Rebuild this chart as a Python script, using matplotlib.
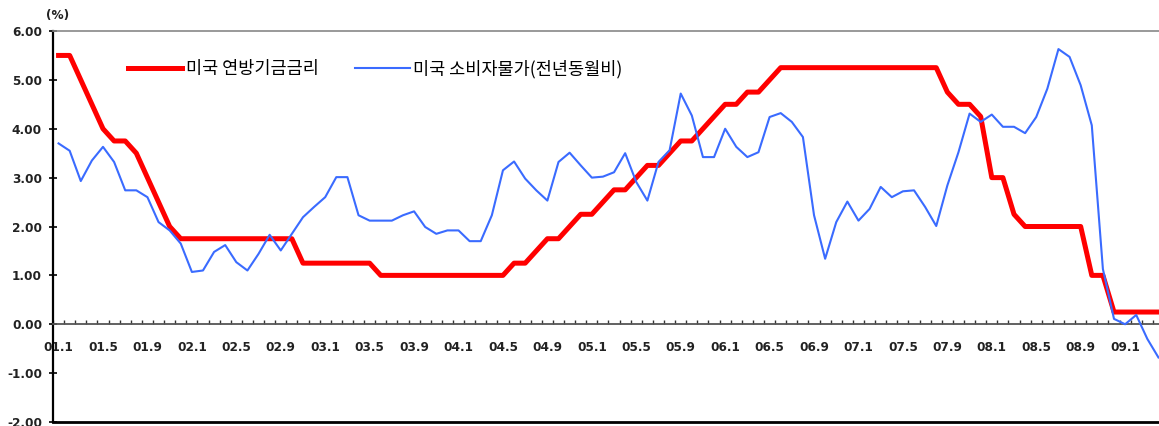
import numpy as np
import matplotlib
matplotlib.use('Agg')
import matplotlib.pyplot as plt

plt.rcParams['font.family'] = ['DejaVu Sans', 'Noto Sans CJK KR']

# 월별 데이터 (2001.1 ~ 2009.4)
fed_rate = [5.5, 5.5, 5.0, 4.5, 4.0, 3.75, 3.75, 3.5, 3.0, 2.5, 2.0, 1.75,          # 2001
            1.75, 1.75, 1.75, 1.75, 1.75, 1.75, 1.75, 1.75, 1.75, 1.75, 1.25, 1.25,  # 2002
            1.25, 1.25, 1.25, 1.25, 1.25, 1.0, 1.0, 1.0, 1.0, 1.0, 1.0, 1.0,         # 2003
            1.0, 1.0, 1.0, 1.0, 1.0, 1.25, 1.25, 1.5, 1.75, 1.75, 2.0, 2.25,         # 2004
            2.25, 2.5, 2.75, 2.75, 3.0, 3.25, 3.25, 3.5, 3.75, 3.75, 4.0, 4.25,      # 2005
            4.5, 4.5, 4.75, 4.75, 5.0, 5.25, 5.25, 5.25, 5.25, 5.25, 5.25, 5.25,     # 2006
            5.25, 5.25, 5.25, 5.25, 5.25, 5.25, 5.25, 5.25, 4.75, 4.5, 4.5, 4.25,    # 2007
            3.0, 3.0, 2.25, 2.0, 2.0, 2.0, 2.0, 2.0, 2.0, 1.0, 1.0, 0.25,            # 2008
            0.25, 0.25, 0.25, 0.25]                                                  # 2009

cpi = [3.7, 3.55, 2.93, 3.35, 3.63, 3.32, 2.74, 2.74, 2.6, 2.09, 1.92, 1.65,        # 2001
       1.07, 1.1, 1.48, 1.62, 1.27, 1.1, 1.44, 1.83, 1.51, 1.85, 2.19, 2.4,         # 2002
       2.6, 3.01, 3.01, 2.23, 2.12, 2.12, 2.12, 2.23, 2.31, 1.99, 1.85, 1.92,       # 2003
       1.92, 1.7, 1.7, 2.23, 3.15, 3.33, 2.98, 2.74, 2.53, 3.32, 3.51, 3.25,        # 2004
       3.0, 3.02, 3.11, 3.5, 2.91, 2.53, 3.32, 3.56, 4.72, 4.27, 3.42, 3.42,        # 2005
       4.0, 3.63, 3.42, 3.52, 4.24, 4.32, 4.14, 3.83, 2.23, 1.34, 2.09, 2.51,       # 2006
       2.12, 2.36, 2.81, 2.6, 2.72, 2.74, 2.4, 2.01, 2.84, 3.52, 4.31, 4.14,        # 2007
       4.29, 4.04, 4.04, 3.91, 4.24, 4.82, 5.63, 5.47, 4.89, 4.07, 1.13, 0.11,      # 2008
       0.0, 0.19, -0.3, -0.68]                                                      # 2009

tick_labels = ['01.1', '01.5', '01.9', '02.1', '02.5', '02.9', '03.1', '03.5', '03.9',
               '04.1', '04.5', '04.9', '05.1', '05.5', '05.9', '06.1', '06.5', '06.9',
               '07.1', '07.5', '07.9', '08.1', '08.5', '08.9', '09.1']

series_names = ['미국 연방기금금리', '미국 소비자물가(전년동월비)']

x = np.arange(len(fed_rate))

fig = plt.figure(figsize=(11.59, 4.26), dpi=100)
ax = fig.add_axes([53 / 1159, 4 / 426, 1111 / 1159, 391 / 426])

ax.plot(x, fed_rate, color='#ff0000', lw=3.6, solid_joinstyle='round', label=series_names[0], zorder=3)
ax.plot(x, cpi, color='#3a6bff', lw=1.5, solid_joinstyle='round', label=series_names[1], zorder=4)

ax.set_xlim(-0.5, len(x) - 0.5)
ax.set_ylim(-2, 6)

# y축
ax.set_yticks(np.arange(-2, 7, 1))
ax.set_yticklabels(['%.2f' % v for v in np.arange(-2, 7, 1)])
ax.tick_params(axis='y', direction='inout', length=5.8, width=1.2, pad=5,
               labelsize=8.7, labelcolor='#222222')

# x축 (0 위치)
ax.spines['bottom'].set_position(('data', 0))
ax.spines['bottom'].set_color('#555555')
ax.spines['bottom'].set_linewidth(1.3)
ax.set_xticks(x[::4])
ax.set_xticklabels(tick_labels)
ax.set_xticks(np.arange(-0.5, len(x), 1), minor=True)
ax.tick_params(axis='x', which='major', length=0, pad=12, labelsize=8.7, labelcolor='#222222')
ax.tick_params(axis='x', which='minor', direction='in', length=3, width=1, color='#333333')
for lab in ax.get_xticklabels() + ax.get_yticklabels():
    lab.set_fontweight('bold')

ax.spines['left'].set_linewidth(1.6)
ax.spines['left'].set_color('black')
ax.spines['top'].set_color('#888888')
ax.spines['top'].set_linewidth(1.2)
ax.spines['right'].set_visible(False)
ax.axhline(-2, color='black', lw=2, clip_on=False)

fig.text(58 / 1159, 1 - 16 / 426, '(%)', ha='center', va='center', fontsize=8.7,
         fontweight='bold', color='#222222')

ax.legend(loc='center left', bbox_to_anchor=((128 - 53) / 1111, (422 - 69) / 391), ncol=2,
          frameon=False, borderpad=0, borderaxespad=0, handlelength=3.1, handletextpad=0.2,
          columnspacing=2.1, prop={'family': ['Noto Sans CJK KR', 'DejaVu Sans'], 'size': 12.6})

fig.savefig('out.png', dpi=100)
